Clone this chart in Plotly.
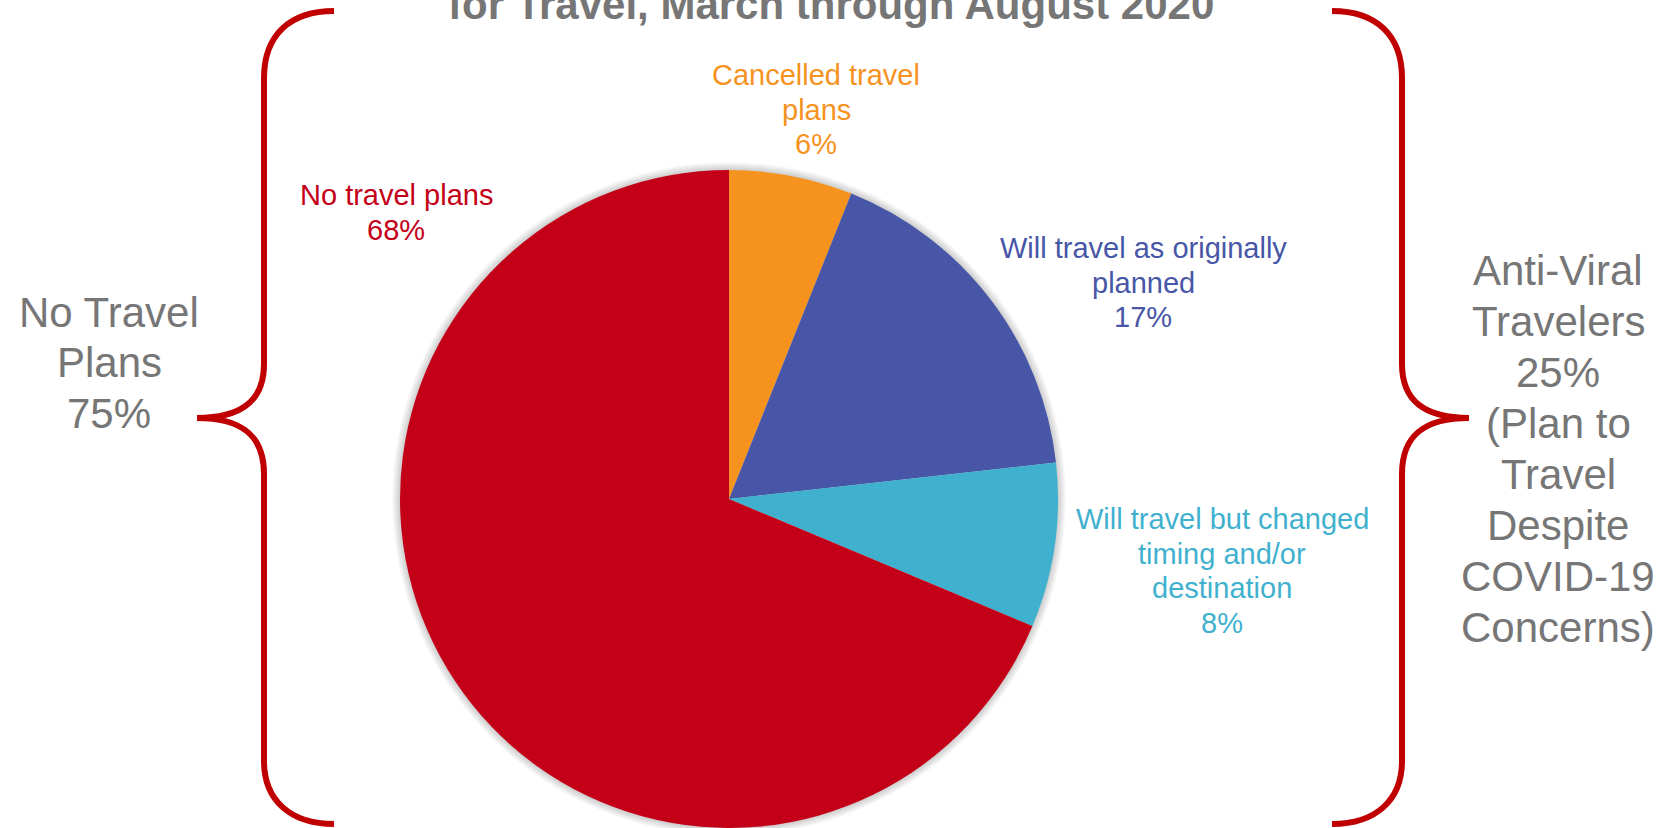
import plotly.graph_objects as go

# --- data ---------------------------------------------------------------
categories = [
    "Cancelled travel<br>plans",
    "Will travel as originally<br>planned",
    "Will travel but changed<br>timing and/or<br>destination",
    "No travel plans",
]
shares = [6, 17, 8, 68]
slice_colors = ["#F6921E", "#4756A6", "#3FB1CE", "#C40018"]

title_line = "for Travel, March through August 2020"
group_left = ["No Travel", "Plans", "75%"]
group_right = ["Anti-Viral", "Travelers", "25%", "(Plan to", "Travel",
               "Despite", "COVID-19", "Concerns)"]

# --- canvas geometry (pixels) -------------------------------------------
W, H = 1671, 828
CX, CY, R = 729, 499, 329
FONT = "Liberation Sans, Arial, sans-serif"
GRAY = "#767676"
BRACE = "#C00000"

fig = go.Figure()

fig.add_trace(go.Pie(
    labels=[c.replace("<br>", " ") for c in categories],
    values=shares,
    sort=False,
    direction="clockwise",
    rotation=0,
    marker=dict(colors=slice_colors, line=dict(width=0)),
    textinfo="none",
    showlegend=False,
    domain=dict(x=[(CX - R) / W, (CX + R) / W], y=[0, 2 * R / H]),
))

shapes = []
# soft glow around the pie
for i in range(1, 9):
    rr = R + i
    shapes.append(dict(type="circle", xref="x", yref="y", layer="below",
                       x0=CX - rr, x1=CX + rr, y0=CY - rr, y1=CY + rr,
                       line=dict(width=0), fillcolor="rgba(0,0,0,0.025)"))


def brace_path(xe, xv, xt, sign):
    """Curly brace: end x, vertical x, tip x; sign mirrors the curls."""
    d = sign
    return (f"M {xe} 11 C {xe - 44*d} 11, {xv} 35, {xv} 78 "
            f"L {xv} 364 C {xv} 402, {xv - 24*d} 418, {xt} 418 "
            f"C {xv - 24*d} 418, {xv} 434, {xv} 474 "
            f"L {xv} 761 C {xv} 800, {xe - 44*d} 824, {xe} 824")


shapes.append(dict(type="path", xref="x", yref="y",
                   path=brace_path(334, 264, 197, 1),
                   line=dict(color=BRACE, width=6)))
shapes.append(dict(type="path", xref="x", yref="y",
                   path=brace_path(1332, 1402, 1469, -1),
                   line=dict(color=BRACE, width=6)))

annotations = []


def add_lines(lines, x, y0, step, size, color, bold=False):
    for i, t in enumerate(lines):
        annotations.append(dict(
            x=x, y=y0 + i * step, xref="x", yref="y",
            text=f"<b>{t}</b>" if bold else t, showarrow=False,
            xanchor="center", yanchor="middle",
            font=dict(family=FONT, size=size, color=color)))


# slice labels: name lines followed by the share
label_pos = [(816, 75), (1143, 248), (1222, 519), (396, 195)]
for name, val, col, (lx, ly) in zip(categories, shares, slice_colors, label_pos):
    add_lines(name.split("<br>") + [f"{val}%"], lx, ly, 34.5, 29, col)

add_lines([title_line], 831, 4, 0, 42, GRAY, bold=True)
add_lines(group_left, 109, 312, 50.5, 42, GRAY)
add_lines(group_right, 1558, 270, 51, 42, GRAY)

fig.update_layout(
    width=W, height=H,
    margin=dict(l=0, r=0, t=0, b=0),
    paper_bgcolor="white", plot_bgcolor="white",
    xaxis=dict(range=[0, W], visible=False, fixedrange=True),
    yaxis=dict(range=[H, 0], visible=False, fixedrange=True),
    shapes=shapes, annotations=annotations,
)

fig.write_html("out.html")
